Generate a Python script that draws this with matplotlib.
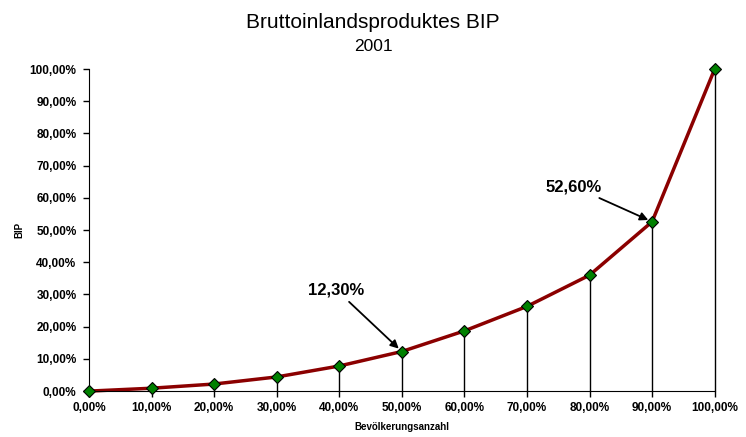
import matplotlib.pyplot as plt
from matplotlib.ticker import FuncFormatter

plt.rcParams['font.family'] = ['Liberation Sans', 'DejaVu Sans']

# Bevölkerungsanteil (%) und BIP-Anteil (%)
population = [0, 10, 20, 30, 40, 50, 60, 70, 80, 90, 100]
bip = [0.0, 0.9, 2.2, 4.4, 7.8, 12.3, 18.7, 26.3, 36.0, 52.6, 100.0]

title = "Bruttoinlandsproduktes BIP"
subtitle = "2001"


def pct(v, pos):
    return f"{v:.2f}%".replace(".", ",")


fig = plt.figure(figsize=(7.46, 4.37), dpi=100)
ax = fig.add_axes([0.1193, 0.105, 0.8387, 0.737])

# senkrechte Linien von jedem Punkt zur x-Achse
ax.vlines(population, 0, bip, colors='black', linewidth=1, zorder=1, clip_on=False)
ax.plot(population, bip, color='#8b0000', linewidth=2.5, zorder=2, clip_on=False)
ax.plot(population, bip, linestyle='none', marker='D', markersize=6,
        markerfacecolor='#008000', markeredgecolor='black', markeredgewidth=0.8,
        zorder=4, clip_on=False)

ax.set_xlim(0, 100)
ax.set_ylim(0, 100)
ax.set_xticks(range(0, 101, 10))
ax.set_yticks(range(0, 101, 10))
ax.xaxis.set_major_formatter(FuncFormatter(pct))
ax.yaxis.set_major_formatter(FuncFormatter(pct))
ax.tick_params(axis='both', labelsize=8.5, length=4, width=1, direction='out')
ax.tick_params(axis='y', pad=5)
for lbl in ax.get_xticklabels() + ax.get_yticklabels():
    lbl.set_fontweight('bold')
ax.spines['top'].set_visible(False)
ax.spines['right'].set_visible(False)

ax.set_xlabel("Bevölkerungsanzahl", fontsize=7, fontweight='bold', labelpad=6)
ax.set_ylabel("BIP", fontsize=7, fontweight='bold', labelpad=4)

fig.text(0.5, 0.948, title, ha='center', va='center', fontsize=15)
fig.text(0.5, 0.893, subtitle, ha='center', va='center', fontsize=12.5)

arrow = dict(arrowstyle='-|>', color='black', lw=1.3, mutation_scale=12, shrinkA=2, shrinkB=3)
ax.annotate(pct(bip[5], None), xy=(population[5], bip[5]), xytext=(39.5, 31.5),
            fontsize=12, fontweight='bold', ha='center', va='center',
            arrowprops=arrow)
ax.annotate(pct(bip[9], None), xy=(population[9], bip[9]), xytext=(77.5, 63.5),
            fontsize=12, fontweight='bold', ha='center', va='center',
            arrowprops=arrow)

fig.savefig("out.png", dpi=100)
